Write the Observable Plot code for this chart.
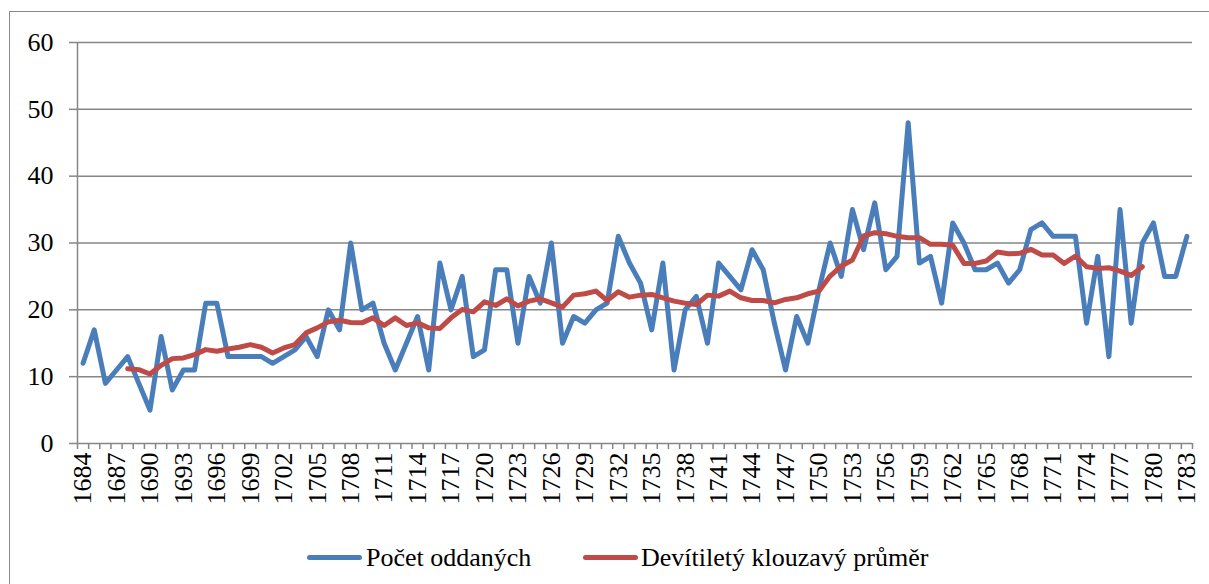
<!DOCTYPE html>
<html>
<head>
<meta charset="utf-8">
<script src="https://cdn.jsdelivr.net/npm/d3@7"></script>
<script src="https://cdn.jsdelivr.net/npm/@observablehq/plot@0.6"></script>
<style>
  html, body { margin: 0; padding: 0; background: #fff; }
  #wrap { position: relative; width: 1209px; height: 584px; overflow: hidden; background: #fff; }
  #frame { position: absolute; left: 9px; top: 11px; width: 2000px; height: 2000px;
           border-left: 1.5px solid #8a8a8a; border-top: 1.5px solid #8a8a8a; pointer-events: none; }
  #chart svg { display: block; }
  #chart svg text { font-family: 'Liberation Serif' !important; }
  #legend { position: relative; height: 49px; font-family: 'Liberation Serif'; font-size: 26px; color: #000; }
  #legend .sw { position: absolute; height: 5px; border-radius: 3px; }
  #legend .lb { position: absolute; line-height: 30px; white-space: nowrap; }
</style>
</head>
<body>
<div id="wrap">
  <div id="frame"></div>
  <div id="chart"></div>
  <div id="legend"></div>
</div>
<script>
// Categories
const years = d3.range(1684, 1784);
// Počet oddaných (1684–1783)
const counts = [
  12, 17, 9, 11, 13, 9, 5, 16, 8, 11,
  11, 21, 21, 13, 13, 13, 13, 12, 13, 14,
  16, 13, 20, 17, 30, 20, 21, 15, 11, 15,
  19, 11, 27, 20, 25, 13, 14, 26, 26, 15,
  25, 21, 30, 15, 19, 18, 20, 21, 31, 27,
  24, 17, 27, 11, 20, 22, 15, 27, 25, 23,
  29, 26, 18, 11, 19, 15, 23, 30, 25, 35,
  29, 36, 26, 28, 48, 27, 28, 21, 33, 30,
  26, 26, 27, 24, 26, 32, 33, 31, 31, 31,
  18, 28, 13, 35, 18, 30, 33, 25, 25, 31
];
// Devítiletý klouzavý průměr (1688–1779)
const maYears = d3.range(1688, 1780);
const movingAvg = [
  11.2, 11.05, 10.4, 11.7, 12.7, 12.8, 13.3, 14.05, 13.8, 14.15,
  14.4, 14.8, 14.4, 13.55, 14.3, 14.8, 16.55, 17.3, 18.2, 18.45,
  18.1, 18.05, 18.8, 17.65, 18.8, 17.65, 18.05, 17.3, 17.2, 18.8,
  20.05, 19.7, 21.2, 20.65, 21.65, 20.6, 21.3, 21.65, 21.05, 20.4,
  22.2, 22.4, 22.8, 21.4, 22.7, 21.9, 22.2, 22.3, 21.8, 21.3,
  21.0, 20.8, 22.2, 22.05, 22.8, 21.8, 21.4, 21.4, 21.05, 21.55,
  21.8, 22.4, 22.8, 25.05, 26.55, 27.45, 31.05, 31.55, 31.4, 31.0,
  30.8, 30.8, 29.8, 29.8, 29.65, 26.95, 26.95, 27.3, 28.65, 28.4,
  28.45, 29.05, 28.2, 28.2, 26.95, 28.05, 26.45, 26.2, 26.3, 25.8,
  25.15, 26.45
];
// Tick labels
const xTickLabels = [1684, 1687, 1690, 1693, 1696, 1699, 1702, 1705, 1708, 1711, 1714, 1717,
  1720, 1723, 1726, 1729, 1732, 1735, 1738, 1741, 1744, 1747, 1750, 1753, 1756, 1759,
  1762, 1765, 1768, 1771, 1774, 1777, 1780, 1783];
const yTickLabels = [0, 10, 20, 30, 40, 50, 60];
const seriesNames = ["Počet oddaných", "Devítiletý klouzavý průměr"];
const seriesColors = ["#4a7ebb", "#be4b48"];

const countData = years.map((y, i) => ({year: y, value: counts[i]}));
const maData = maYears.map((y, i) => ({year: y, value: movingAvg[i]}));
const boundaries = [...years.map(y => y - 0.5), years[years.length - 1] + 0.5];
const axisGray = "#868686";

const chart = Plot.plot({
  width: 1209,
  height: 535,
  marginLeft: 77,
  marginRight: 17,
  marginTop: 42,
  marginBottom: 92,
  x: {domain: [boundaries[0], boundaries[boundaries.length - 1]]},
  y: {domain: [0, 60]},
  style: {fontFamily: "'Liberation Serif'", fontSize: "26px", color: "#000", background: "transparent", overflow: "visible"},
  marks: [
    Plot.gridY(yTickLabels.slice(1), {stroke: axisGray, strokeOpacity: 1, strokeWidth: 1.5}),
    Plot.ruleY([0], {stroke: axisGray, strokeWidth: 1.5}),
    Plot.ruleX([boundaries[0]], {stroke: axisGray, strokeWidth: 1.5}),
    Plot.axisY(yTickLabels, {tickSize: 8, tickPadding: 16, stroke: axisGray, strokeWidth: 1.5, label: null, fontSize: 26}),
    Plot.axisX(boundaries, {tickSize: 6, tickFormat: () => "", stroke: axisGray, strokeWidth: 1.5, label: null}),
    Plot.axisX(xTickLabels, {tickSize: 0, tickPadding: 9, tickRotate: -90, tickFormat: d => String(d), label: null, fontSize: 26}),
    Plot.line(countData, {x: "year", y: "value", stroke: seriesColors[0], strokeWidth: 5, strokeLinejoin: "round", strokeLinecap: "round"}),
    Plot.line(maData, {x: "year", y: "value", stroke: seriesColors[1], strokeWidth: 5, strokeLinejoin: "round", strokeLinecap: "round"})
  ]
});
document.getElementById("chart").appendChild(chart);

// Legend
const legend = document.getElementById("legend");
const legendPos = [{sw: 307, lb: 366}, {sw: 583, lb: 641}];
seriesNames.forEach((name, i) => {
  const sw = document.createElement("span");
  sw.className = "sw";
  sw.style.left = legendPos[i].sw + "px";
  sw.style.width = "55px";
  sw.style.top = "20px";
  sw.style.background = seriesColors[i];
  legend.appendChild(sw);
  const lb = document.createElement("span");
  lb.className = "lb";
  lb.style.left = legendPos[i].lb + "px";
  lb.style.top = "8px";
  lb.textContent = name;
  legend.appendChild(lb);
});
</script>
</body>
</html>
